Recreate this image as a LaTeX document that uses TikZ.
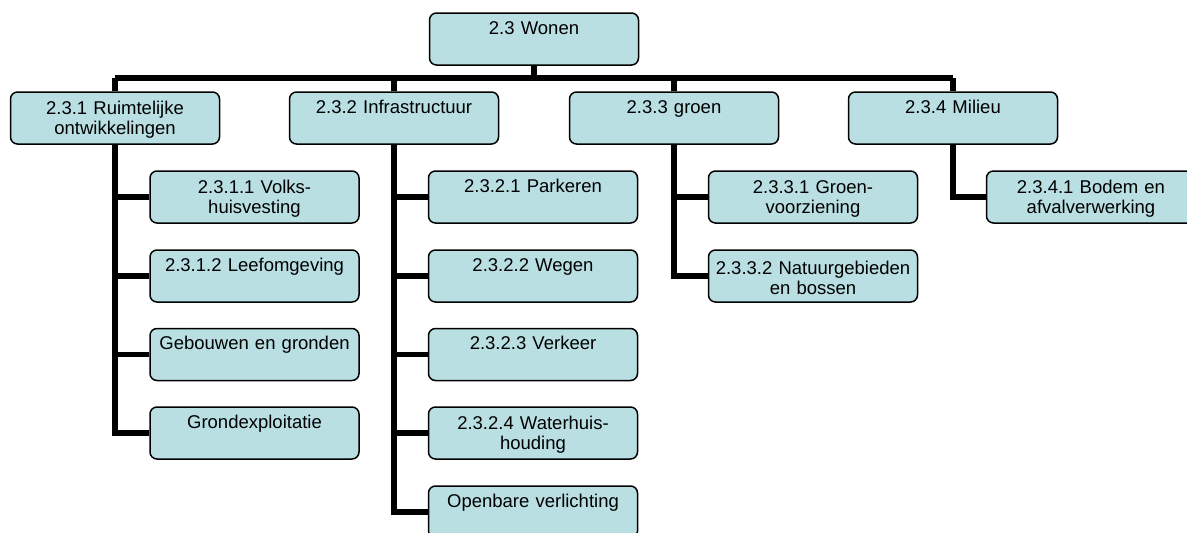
\documentclass[tikz,border=0pt]{standalone}
\usepackage{fontspec}
\setmainfont{Liberation Sans}
\begin{document}
\begin{tikzpicture}[x=1pt,y=-1pt,
  orgbox/.style={draw=black, line width=1.5pt, fill=boxfill, rounded corners=7pt,
    minimum width=209pt, minimum height=52pt, inner sep=0pt,
    text width=207pt, align=center,
    font=\fontsize{18.5}{20.5}\selectfont,
    execute at begin node={\rule{0pt}{17pt}}},
  link/.style={line width=5.5pt, draw=black}]
\definecolor{boxfill}{HTML}{B9DFE3}
\useasboundingbox (0,0) rectangle (1187,533);
\clip (0,0) rectangle (1187,533);

% root and first level
\node[orgbox] (root) at (534,39) {2.3 Wonen\\\strut};
\node[orgbox] (b1) at (115,118) {2.3.1 Ruimtelijke\\ontwikkelingen};
\node[orgbox] (b2) at (394,118) {2.3.2 Infrastructuur\\\strut};
\node[orgbox] (b3) at (674,118) {2.3.3 groen\\\strut};
\node[orgbox] (b4) at (953,118) {2.3.4 Milieu\\\strut};

% second level, column 1
\node[orgbox] (c11) at (254.5,197) {2.3.1.1 Volks-\\huisvesting};
\node[orgbox] (c12) at (254.5,276) {2.3.1.2 Leefomgeving\\\strut};
\node[orgbox] (c13) at (254.5,354.5) {Gebouwen en gronden\\\strut};
\node[orgbox] (c14) at (254.5,433) {Grondexploitatie\\\strut};

% second level, column 2
\node[orgbox] (c21) at (533,197) {2.3.2.1 Parkeren\\\strut};
\node[orgbox] (c22) at (533,276) {2.3.2.2 Wegen\\\strut};
\node[orgbox] (c23) at (533,354.5) {2.3.2.3 Verkeer\\\strut};
\node[orgbox] (c24) at (533,433) {2.3.2.4 Waterhuis-\\houding};
\node[orgbox] (c25) at (533,512) {Openbare verlichting\\\strut};

% second level, column 3
\node[orgbox] (c31) at (813,197) {2.3.3.1 Groen-\\voorziening};
\node[orgbox] (c32) at (813,276) {2.3.3.2 Natuurgebieden\\en bossen};

% second level, column 4
\node[orgbox] (c41) at (1091,197) {2.3.4.1 Bodem en\\afvalverwerking};

% bus from the root to the first level
\coordinate (busL) at (115,78);
\coordinate (busR) at (953,78);
\draw[link] (root.south) -- (root.south |- busL);
\draw[link] (busL) -- (busR);
\foreach \b in {b1,b2,b3,b4} \draw[link] (\b.north |- busL) -- (\b.north);

% spines down from each first level box
\draw[link] (b1.south) -- (b1.south |- c14.west) -- (c14.west);
\foreach \c in {c11,c12,c13} \draw[link] (b1.south |- \c.west) -- (\c.west);
\draw[link] (b2.south) -- (b2.south |- c25.west) -- (c25.west);
\foreach \c in {c21,c22,c23,c24} \draw[link] (b2.south |- \c.west) -- (\c.west);
\draw[link] (b3.south) -- (b3.south |- c32.west) -- (c32.west);
\draw[link] (b3.south |- c31.west) -- (c31.west);
\draw[link] (b4.south) -- (b4.south |- c41.west) -- (c41.west);
\end{tikzpicture}
\end{document}
